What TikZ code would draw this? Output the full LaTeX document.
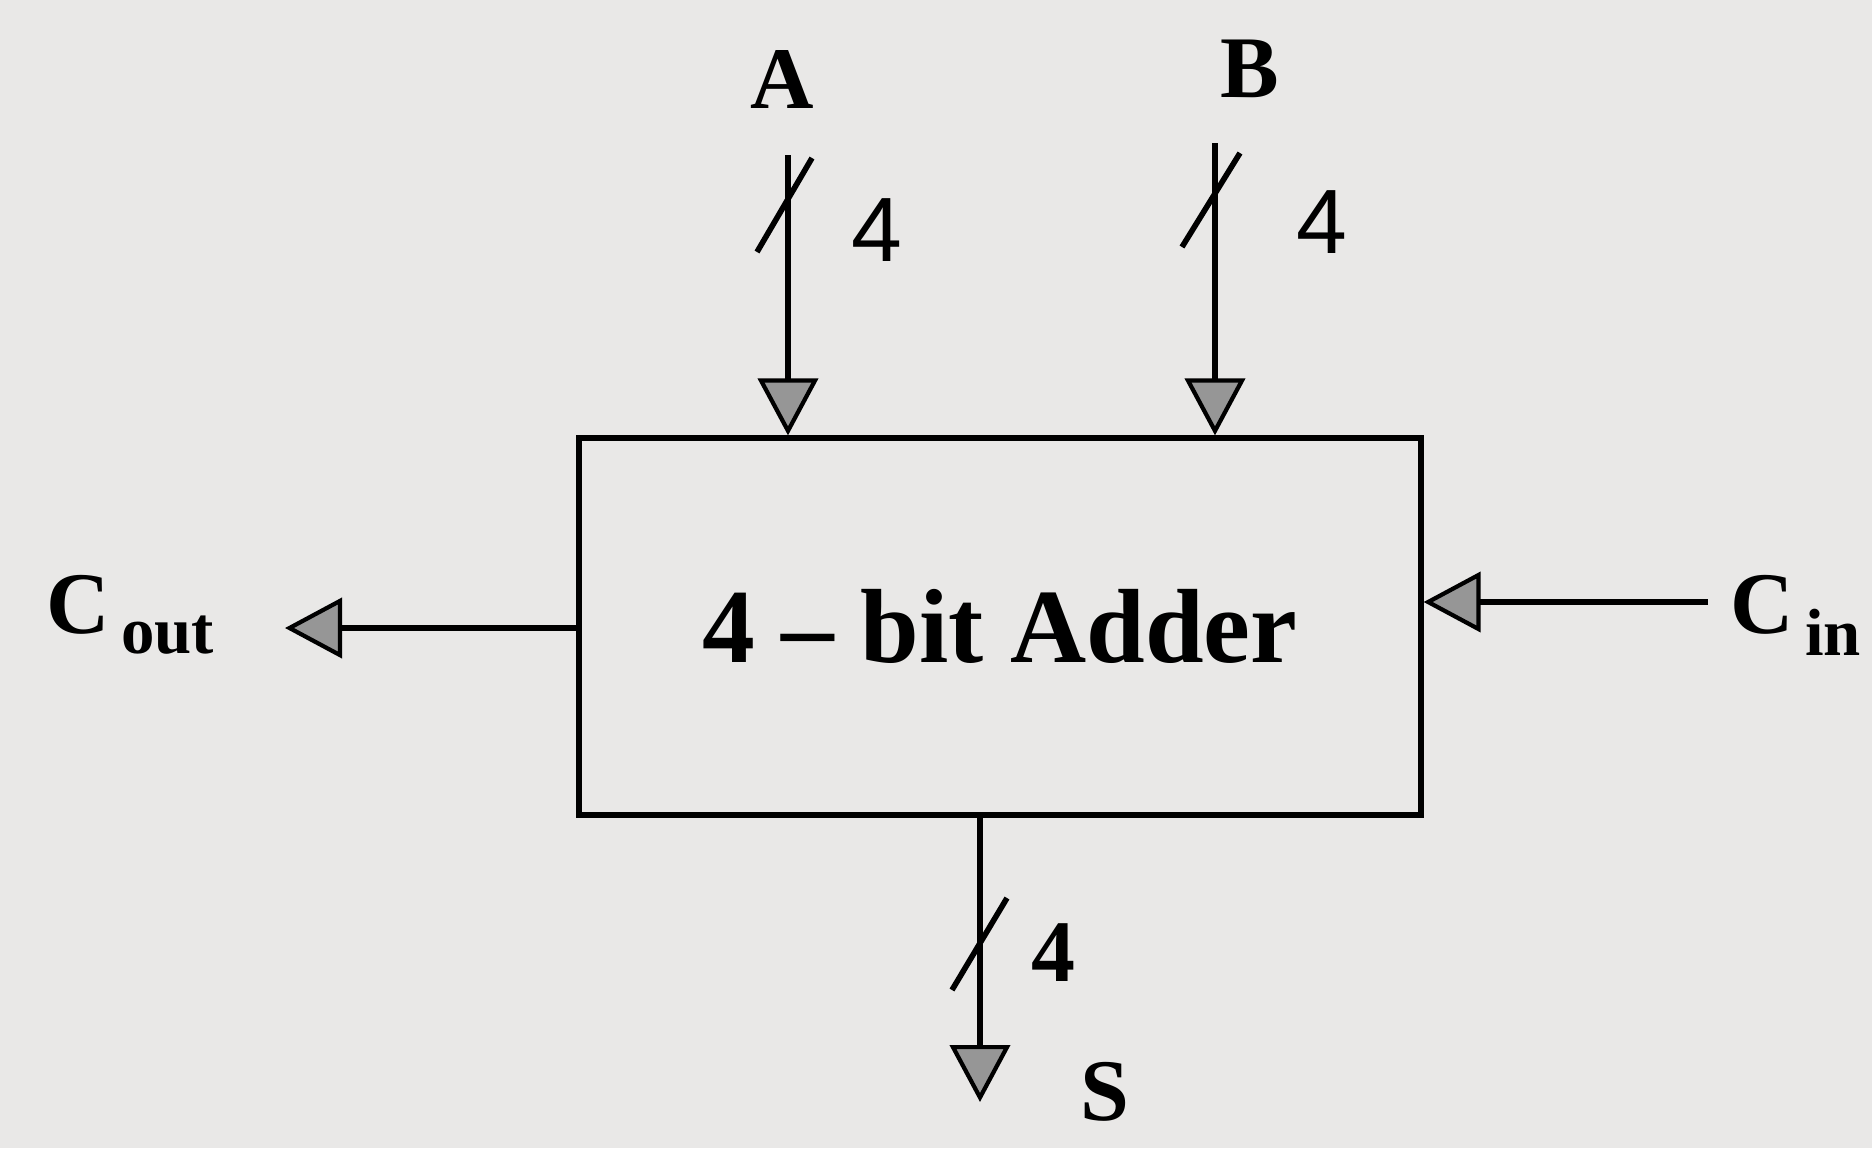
\documentclass[tikz,border=0pt]{standalone}
\usepackage{fontspec}
\setmainfont{Liberation Serif}
\newfontfamily\sansf{Liberation Sans}
\usetikzlibrary{arrows.meta,calc}
\definecolor{paper}{RGB}{233,232,231}
\definecolor{tipfill}{RGB}{150,150,150}
\tikzset{
  wire/.style={line width=1.6pt,draw=black,-{Triangle[length=5.7mm,width=6mm,fill=tipfill,line width=1.2pt]}},
  busslash/.style={line width=1.6pt},
  lbl/.style={font=\fontsize{25}{28}\selectfont\bfseries,inner sep=0pt},
  widthlbl/.style={font=\sansf\fontsize{26}{30}\selectfont,inner sep=0pt},
  widthlblb/.style={font=\fontsize{25}{28}\selectfont\bfseries,inner sep=0pt},
  blockbox/.style={draw,line width=1.5pt,minimum width=8.42cm,minimum height=3.77cm,inner sep=0pt,
    font=\fontsize{30}{34}\selectfont\bfseries}
}
\begin{document}
\begin{tikzpicture}
\fill[paper] (0,0) rectangle (18.72,-11.48);
\useasboundingbox (0,0) rectangle (18.72,-11.48);

\node[blockbox] (adder) at (10.00,-6.265) {4 -- bit Adder};

% labels
\node[lbl] (A) at (7.82,-0.79) {A};
\node[lbl] (B) at (12.50,-0.69) {B};
\node[lbl,anchor=base west] (Cout) at (0.46,-6.33) {C\raisebox{-0.2cm}{\fontsize{19}{22}\selectfont\,out}};
\node[lbl,anchor=base west] (Cin) at (17.30,-6.33) {C\raisebox{-0.22cm}{\fontsize{19}{22}\selectfont\,in}};
\node[lbl] (S) at (11.05,-10.92) {S};

\node[widthlbl] (wA) at (8.77,-2.30) {4};
\node[widthlbl] (wB) at (13.22,-2.22) {4};
\node[widthlblb] (wS) at (10.53,-9.53) {4};

% connector endpoints
\coordinate (aTop) at (7.88,-1.55);
\coordinate (bTop) at (12.15,-1.43);
\coordinate (sEnd) at (9.80,-11.02);
\coordinate (coutEnd) at (2.85,-6.28);
\coordinate (cinStart) at (17.08,-6.02);

% connectors
\draw[wire] (aTop) -- (aTop |- adder.north);
\draw[wire] (bTop) -- (bTop |- adder.north);
\draw[wire] (sEnd |- adder.south) -- (sEnd);
\draw[wire] (coutEnd -| adder.west) -- (coutEnd);
\draw[wire] (cinStart) -- (cinStart -| adder.east);

% bus width slashes
\draw[busslash] ($(aTop)+(-0.31,-0.97)$) -- ($(aTop)+(0.24,-0.03)$);
\draw[busslash] ($(bTop)+(-0.33,-1.04)$) -- ($(bTop)+(0.25,-0.10)$);
\draw[busslash] (9.52,-9.90) -- (10.07,-8.98);
\end{tikzpicture}
\end{document}
